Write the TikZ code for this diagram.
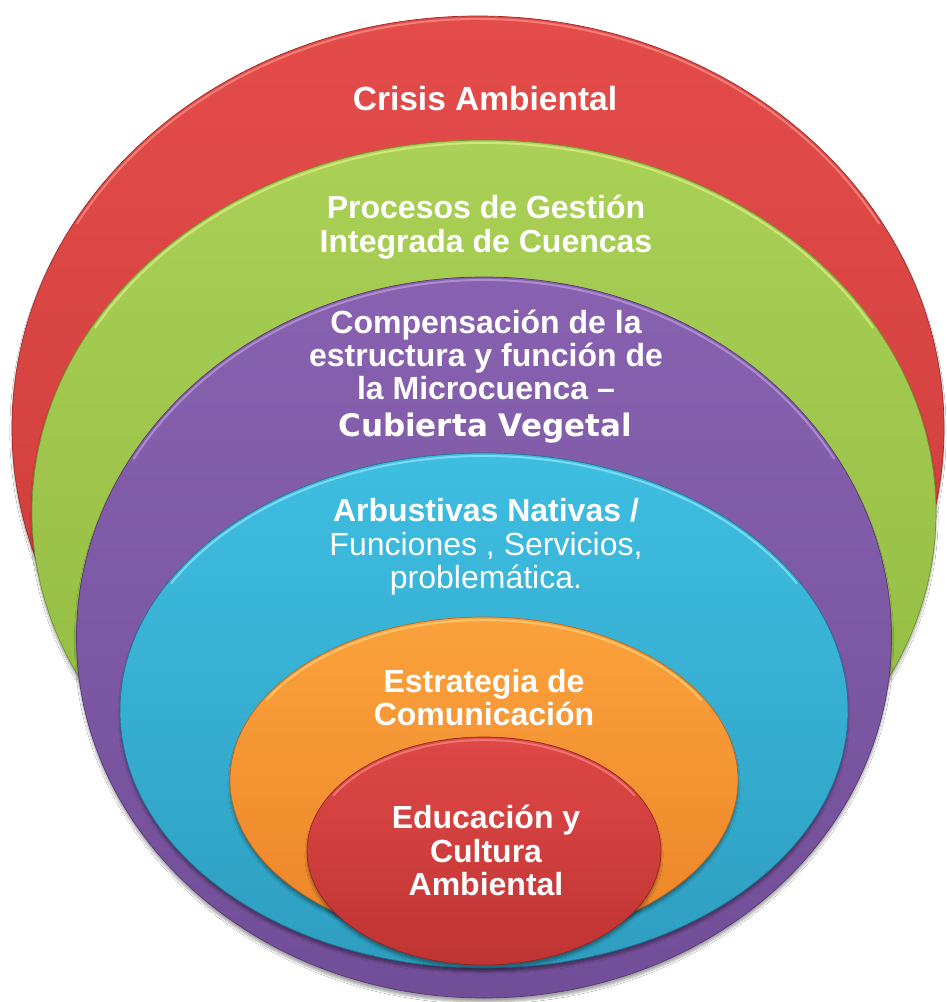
\documentclass[tikz,border=0pt]{standalone}
\usepackage{fontspec}
\setmainfont{Liberation Sans}
\newfontfamily\verdanalike{DejaVu Sans}
\usetikzlibrary{shadows.blur}
\definecolor{redT}{RGB}{228,76,74}
\definecolor{redB}{RGB}{200,58,56}
\definecolor{redD}{RGB}{160,40,40}
\definecolor{redH}{RGB}{250,150,140}
\definecolor{grnT}{RGB}{170,208,86}
\definecolor{grnB}{RGB}{142,184,62}
\definecolor{grnD}{RGB}{110,145,45}
\definecolor{grnH}{RGB}{225,240,140}
\definecolor{purT}{RGB}{136,98,176}
\definecolor{purB}{RGB}{114,78,152}
\definecolor{purD}{RGB}{85,55,115}
\definecolor{purH}{RGB}{190,160,220}
\definecolor{cyaT}{RGB}{62,190,226}
\definecolor{cyaB}{RGB}{46,158,192}
\definecolor{cyaD}{RGB}{30,115,145}
\definecolor{cyaH}{RGB}{150,230,250}
\definecolor{oraT}{RGB}{251,162,60}
\definecolor{oraB}{RGB}{236,132,40}
\definecolor{oraD}{RGB}{185,100,25}
\definecolor{oraH}{RGB}{255,210,130}
\definecolor{rd2T}{RGB}{222,72,70}
\definecolor{rd2B}{RGB}{192,52,52}
\definecolor{rd2D}{RGB}{150,35,35}
\definecolor{rd2H}{RGB}{245,140,130}
\begin{document}
\begin{tikzpicture}[x=1pt,y=-1pt,
  ring/.style={blur shadow={shadow xshift=0pt,shadow yshift=-4pt,shadow blur steps=6,shadow opacity=35}, line width=0.7pt},
  hilite/.style={line width=2pt, opacity=0.7, line cap=round},
  lbl/.style={text=white, font=\bfseries\fontsize{32}{34}\selectfont, inner sep=0pt, anchor=base},
  lblr/.style={text=white, font=\fontsize{32}{34}\selectfont, inner sep=0pt, anchor=base}]
\fill[white] (0,0) rectangle (946,1002);
\useasboundingbox (0,0) rectangle (946,1002);
% outer red
\path[ring, top color=redT, bottom color=redB, draw=redD] (478,428) ellipse [x radius=466pt, y radius=412pt];
\draw[hilite, redH] (478,428) ++(150:463pt and 409pt) arc [start angle=150, end angle=30, x radius=463pt, y radius=409pt];
% green
\path[ring, top color=grnT, bottom color=grnB, draw=grnD] (484,512) ellipse [x radius=452pt, y radius=372pt];
\draw[hilite, grnH] (484,512) ++(150:449pt and 369pt) arc [start angle=150, end angle=30, x radius=449pt, y radius=369pt];
% purple
\path[ring, top color=purT, bottom color=purB, draw=purD] (484,637.5) ellipse [x radius=407.5pt, y radius=360.5pt];
\draw[hilite, purH] (484,637.5) ++(150:404.5pt and 357.5pt) arc [start angle=150, end angle=30, x radius=404.5pt, y radius=357.5pt];
% cyan
\path[ring, top color=cyaT, bottom color=cyaB, draw=cyaD] (484,710.5) ellipse [x radius=364pt, y radius=257.5pt];
\draw[hilite, cyaH] (484,710.5) ++(150:361pt and 254.5pt) arc [start angle=150, end angle=30, x radius=361pt, y radius=254.5pt];
% orange
\path[ring, top color=oraT, bottom color=oraB, draw=oraD] (484,780) ellipse [x radius=254pt, y radius=163pt];
\draw[hilite, oraH] (484,780) ++(150:251pt and 160pt) arc [start angle=150, end angle=30, x radius=251pt, y radius=160pt];
% inner red
\path[ring, top color=rd2T, bottom color=rd2B, draw=rd2D] (484,851) ellipse [x radius=177pt, y radius=114pt];
\draw[hilite, rd2H] (484,851) ++(150:174pt and 111pt) arc [start angle=150, end angle=30, x radius=174pt, y radius=111pt];
% texts
\node[lbl, font=\bfseries\fontsize{33.5}{35}\selectfont] (t1) at (485,110) {Crisis Ambiental};
\node[lbl] (t2a) at (486,218) {Procesos de Gestión};
\node[lbl] (t2b) at (486,252) {Integrada de Cuencas};
\node[lbl] (t3a) at (486,333) {Compensación de la};
\node[lbl] (t3b) at (486,366) {estructura y función de};
\node[lbl] (t3c) at (486,399) {la Microcuenca –};
\node[lbl, font=\verdanalike\bfseries\fontsize{31}{34}\selectfont] (t3d) at (485,436) {Cubierta Vegetal};
\node[lbl] (t4a) at (486,521) {Arbustivas Nativas /};
\node[lblr] (t4b) at (486,555) {Funciones , Servicios,};
\node[lblr] (t4c) at (486,588) {problemática.};
\node[lbl] (t5a) at (484,692) {Estrategia de};
\node[lbl] (t5b) at (484,725) {Comunicación};
\node[lbl] (t6a) at (486,828) {Educación y};
\node[lbl] (t6b) at (486,862) {Cultura};
\node[lbl] (t6c) at (486,895) {Ambiental};
\end{tikzpicture}
\end{document}
